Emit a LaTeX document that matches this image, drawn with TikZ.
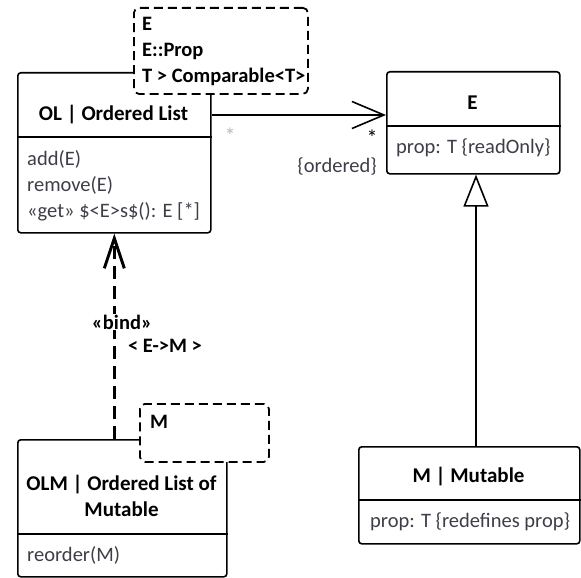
\documentclass[tikz,border=0pt]{standalone}
\usepackage{fontspec}
\setmainfont{Carlito}
\usetikzlibrary{arrows.meta}
\definecolor{featgray}{RGB}{62,62,72}
\tikzset{
	classbox/.style={draw, line width=1.6pt, rounded corners=3pt, fill=white, inner sep=0pt, anchor=north west},
	tmplbox/.style={draw, dash pattern=on 9pt off 5pt, line width=1.8pt, rounded corners=5pt, fill=white, inner sep=0pt, anchor=north west},
	sepline/.style={line width=1.6pt},
	umltitle/.style={font=\bfseries\fontsize{21}{26}\selectfont, align=center, inner sep=0pt},
	feature/.style={font=\fontsize{20.5}{26}\selectfont, text=featgray, align=left, anchor=west, inner sep=0pt},
	tmpltext/.style={font=\bfseries\fontsize{20.5}{26}\selectfont, align=left, anchor=west, inner sep=0pt},
	assoc/.style={line width=1.6pt, -{Straight Barb[length=32pt, width=27pt]}},
	gen/.style={line width=1.6pt, -{Triangle[open, length=32pt, width=25pt, fill=white]}},
	bind/.style={line width=3pt, dash pattern=on 13pt off 7pt, -{Straight Barb[length=30pt, width=20pt]}},
}
\begin{document}
\begin{tikzpicture}[x=1pt, y=-1pt]
	\useasboundingbox (0,0) rectangle (581,578);
	
	% OL | Ordered List
	\node[classbox, minimum width=193pt, minimum height=160pt] (ol) at (17,72) {};
	\node[umltitle] (ol-name) at (113.5,115) {OL | Ordered List};
	\draw[sepline] (ol.west |- 0,137) -- (ol.east |- 0,137);
	\node[feature] (ol-ops) at (27,186) {add(E)\\remove(E)\\«get» \$<E>s\$(): E [*]};
	
	% template parameters of OL
	\node[tmplbox, minimum width=174pt, minimum height=86pt] (ol-tmpl) at (133,7) {};
	\node[tmpltext] (ol-params) at (142,51) {E\\E::Prop\\T > Comparable<T>};
	
	% E
	\node[classbox, minimum width=173pt, minimum height=102pt] (e) at (386,71) {};
	\node[umltitle] (e-name) at (472.5,103) {E};
	\draw[sepline] (e.west |- 0,126) -- (e.east |- 0,126);
	\node[feature] (e-attr) at (396,148) {prop: T \{readOnly\}};
	
	% M | Mutable
	\node[classbox, minimum width=221pt, minimum height=97pt] (mut) at (358,446) {};
	\node[umltitle] (mut-name) at (468.5,477) {M | Mutable};
	\draw[sepline] (mut.west |- 0,500) -- (mut.east |- 0,500);
	\node[feature] (mut-attr) at (370,522) {prop: T \{redefines prop\}};
	
	% OLM | Ordered List of Mutable
	\node[classbox, minimum width=209pt, minimum height=137pt] (olm) at (17,439) {};
	\node[umltitle] (olm-name) at (121.5,496) {OLM | Ordered List of\\Mutable};
	\draw[sepline] (olm.west |- 0,534) -- (olm.east |- 0,534);
	\node[feature] (olm-ops) at (27,555) {reorder(M)};
	
	% template parameter of OLM
	\node[tmplbox, minimum width=129pt, minimum height=58pt] (olm-tmpl) at (139,403) {};
	\node[tmpltext] (olm-param) at (150,422) {M};
	
	% connectors
	\draw[assoc] (ol-name -| ol.east) -- (ol-name -| e.west);
	\node[text=gray!55, font=\fontsize{22}{26}\selectfont] (ol-mult) at (230,136) {*};
	\node[font=\fontsize{22}{26}\selectfont] (e-mult) at (372,138) {*};
	\node[feature, anchor=east] (e-ordered) at (377,166) {\{ordered\}};
	
	\draw[gen] (mut.north -| 476,0) -- (e.south -| 476,0);
	
	\draw[bind] (ol.south |- olm.north) -- (ol.south);
	\node[tmpltext, anchor=center, fill=white, inner sep=1pt] (bind-st) at (122,322) {«bind»};
	\node[tmpltext, anchor=center] (bind-args) at (165,346) {< E->M >};
\end{tikzpicture}
\end{document}
